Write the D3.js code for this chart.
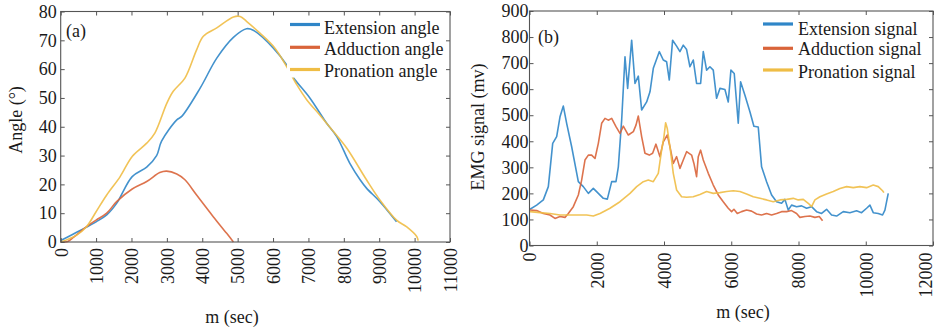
<!DOCTYPE html>
<html>
<head>
<meta charset="utf-8">
<script src="https://d3js.org/d3.v7.min.js"></script>
<style>
  body { margin: 0; background: #fff; }
  svg text { font-family: "Liberation Serif", "Times New Roman", Times, "DejaVu Serif", serif !important; fill: #1a1a1a; }
</style>
</head>
<body>
<div id="chart"></div>
<script>
// (a) joint angles, [time, angle]
const extensionAngle = [[0,0.5],[550,4],[1000,7],[1300,9.4],[1580,13.4],[2020,22.7],[2430,26],[2710,30],[2850,35],
  [3280,42.4],[3420,43.6],[3940,53.4],[4410,63.8],[4880,71],[5250,74],[5440,73.5],[6010,67.3],[6380,61.5],
  [6570,57.2],[7040,50],[7510,41.3],[7800,36.6],[8170,27.3],[8460,21.6],[8640,18.7],[9020,14],[9490,7]];
const adductionAngle = [[0,0],[200,0.2],[360,1.6],[730,5.3],[1000,7.6],[1300,10],[1580,14],[2020,18.4],[2430,21],
  [2800,24.1],[2990,24.6],[3280,23.6],[3510,21.6],[3840,16.3],[4310,8.8],[4690,3],[4880,0]];
const pronationAngle = [[0,0],[450,2.4],[730,5.3],[1000,10.5],[1300,16.3],[1680,22.7],[2020,29.7],[2430,34.3],
  [2660,37.8],[3000,48.2],[3180,52.3],[3510,56.9],[3840,66.7],[4030,71.4],[4410,74.3],[4880,78.1],[5070,78.3],
  [5250,76.6],[5630,72.5],[6010,67.9],[6380,61],[6670,54.6],[6950,49.4],[7320,44.1],[7700,38.4],[8080,32.6],
  [8640,21.6],[9020,14.6],[9490,7.6],[9770,5.3],[10060,1.9],[10100,0.5]];

// (b) EMG signals, [time, mv]
const extensionSignal = [[15,139],[213,155],[411,175],[560,226],[690,392],[808,418],[907,494],[1006,535],[1105,469],
  [1254,379],[1452,245],[1600,226],[1750,200],[1898,219],[2047,200],[2196,181],[2315,178],[2444,245],[2572,245],
  [2642,302],[2741,481],[2840,724],[2919,603],[3038,788],[3137,622],[3236,650],[3335,520],[3484,551],[3583,590],
  [3682,680],[3860,744],[3979,712],[4078,705],[4157,635],[4256,788],[4375,765],[4474,744],[4573,769],[4672,752],
  [4771,686],[4870,712],[4969,622],[5089,622],[5168,744],[5267,673],[5366,686],[5465,673],[5564,565],[5663,603],
  [5812,599],[5911,551],[5990,673],[6089,660],[6208,469],[6278,628],[6407,577],[6555,513],[6674,458],[6803,455],
  [6902,302],[7051,245],[7200,194],[7348,168],[7497,162],[7596,177],[7695,136],[7794,155],[7943,149],[8092,152],
  [8240,143],[8389,149],[8538,130],[8687,123],[8835,139],[8984,117],[9133,113],[9331,130],[9529,126],[9727,133],
  [9876,126],[10025,143],[10124,155],[10223,126],[10372,123],[10500,117],[10570,136],[10669,200]];
const adductionSignal = [[15,136],[213,134],[411,123],[610,117],[758,104],[907,111],[1056,108],[1155,123],[1303,149],
  [1452,194],[1551,251],[1650,328],[1750,347],[1848,347],[1948,334],[2047,392],[2146,469],[2245,488],[2344,481],
  [2444,488],[2572,456],[2691,430],[2790,458],[2939,424],[3088,437],[3167,462],[3236,497],[3335,418],[3434,354],
  [3563,347],[3662,354],[3761,389],[3880,341],[3979,398],[4098,424],[4177,379],[4276,315],[4375,341],[4474,296],
  [4573,328],[4672,360],[4821,347],[4890,315],[4969,264],[5019,341],[5089,366],[5168,328],[5317,277],[5465,232],
  [5614,194],[5762,168],[5911,143],[6010,130],[6080,139],[6179,123],[6307,130],[6456,136],[6605,132],[6753,121],
  [6902,117],[7051,123],[7200,117],[7348,123],[7497,130],[7646,130],[7794,134],[7943,123],[8042,108],[8191,111],
  [8339,113],[8488,108],[8617,111],[8716,95]];
const pronationSignal = [[15,130],[312,126],[610,123],[907,117],[1204,117],[1502,117],[1700,117],[1898,113],[2097,123],
  [2394,143],[2691,168],[2989,200],[3187,226],[3385,245],[3533,251],[3682,245],[3830,277],[3929,366],[3999,418],
  [4048,471],[4098,449],[4177,379],[4276,277],[4375,213],[4524,187],[4672,185],[4870,187],[5069,196],[5267,207],
  [5465,200],[5663,203],[5861,207],[6060,210],[6258,207],[6456,198],[6654,187],[6853,181],[7051,175],[7249,168],
  [7447,175],[7646,177],[7844,181],[7993,175],[8142,177],[8290,162],[8389,149],[8488,175],[8637,187],[8835,198],
  [9034,207],[9232,219],[9430,226],[9628,222],[9826,226],[10025,222],[10223,232],[10372,226],[10500,210],[10540,203]];

const angleTicksX = d3.range(0, 11001, 1000);
const angleTicksY = d3.range(0, 81, 10);
const signalTicksX = d3.range(0, 12001, 2000);
const signalTicksY = d3.range(0, 901, 100);

const colors = ["#2f86c8", "#d9643a", "#efbd45"];
const FONT = '"Liberation Serif", "Times New Roman", Times, "DejaVu Serif", serif';

const svg = d3.select("#chart").append("svg")
  .attr("width", 935).attr("height", 329)
  .attr("font-family", FONT);

function panel(opt) {
  const x = d3.scaleLinear().domain(opt.xDomain).range(opt.xRange);
  const y = d3.scaleLinear().domain(opt.yDomain).range(opt.yRange);
  const g = svg.append("g");
  const [x0, x1] = opt.xRange, [y0, y1] = opt.yRange;

  // curves
  const line = d3.line().x(d => x(d[0])).y(d => y(d[1])).curve(opt.curve);
  opt.series.forEach((s, i) => {
    g.append("path").datum(s).attr("d", line)
      .attr("fill", "none").attr("stroke", colors[i])
      .attr("stroke-width", 1.6).attr("stroke-opacity", 0.9)
      .attr("stroke-linejoin", "round");
  });

  // legend (white box covers lines)
  const lg = g.append("g");
  lg.append("rect").attr("x", opt.legend.x - 3).attr("y", y1 + 1)
    .attr("width", opt.legend.w).attr("height", opt.legend.h).attr("fill", "#fff");
  opt.names.forEach((n, i) => {
    const ly = opt.legend.lineY[i];
    lg.append("line").attr("x1", opt.legend.x).attr("x2", opt.legend.x + 30)
      .attr("y1", ly).attr("y2", ly).attr("stroke", colors[i]).attr("stroke-width", 3.2);
    lg.append("text").attr("x", opt.legend.tx).attr("y", opt.legend.textY[i])
      .attr("font-size", 18).text(n);
  });

  // axes
  const axisStyle = sel => {
    sel.attr("font-family", FONT);
    sel.select(".domain").remove();
    sel.selectAll("line").attr("stroke", "#555");
  };
  const last = opt.xTicks[opt.xTicks.length - 1];
  g.append("g").attr("transform", `translate(0,${y0})`)
    .call(d3.axisBottom(x).tickValues(opt.xTicks).tickSize(-4).tickPadding(6).tickFormat(d3.format("d")))
    .call(axisStyle)
    .call(s => s.selectAll("text")
      .attr("font-size", 18).attr("fill", "#1a1a1a")
      .attr("transform", "rotate(-90)").attr("text-anchor", "end")
      .attr("x", -opt.xLabelGap).attr("y", d => d === last ? opt.lastShift : 0).attr("dy", "0.35em"));
  g.append("g").attr("transform", `translate(0,${y1})`)
    .call(d3.axisTop(x).tickValues(opt.xTicks).tickSize(-4).tickFormat(""))
    .call(axisStyle);
  g.append("g").attr("transform", `translate(${x0},0)`)
    .call(d3.axisLeft(y).tickValues(opt.yTicks).tickSize(-4).tickPadding(opt.yLabelGap).tickFormat(d3.format("d")))
    .call(axisStyle)
    .call(s => s.selectAll("text").attr("font-size", 18).attr("fill", "#1a1a1a"));
  g.append("g").attr("transform", `translate(${x1},0)`)
    .call(d3.axisRight(y).tickValues(opt.yTicks).tickSize(-4).tickFormat(""))
    .call(axisStyle);

  g.append("rect").attr("x", x0).attr("y", y1).attr("width", x1 - x0).attr("height", y0 - y1)
    .attr("fill", "none").attr("stroke", "#555").attr("stroke-width", 1.1);

  // titles
  g.append("text").attr("x", opt.tag.x).attr("y", opt.tag.y).attr("font-size", 18).text(opt.tag.t);
  g.append("text").attr("x", opt.xTitle.x).attr("y", opt.xTitle.y)
    .attr("text-anchor", "middle").attr("font-size", 18).text("m (sec)");
  g.append("text").attr("transform", `translate(${opt.yTitle.x},${opt.yTitle.y}) rotate(-90)`)
    .attr("text-anchor", "middle").attr("font-size", 18).text(opt.yTitle.t);
}

panel({
  xDomain: [0, 11000], xRange: [60.7, 450],
  yDomain: [0, 80], yRange: [242, 11.5],
  xTicks: angleTicksX, yTicks: angleTicksY,
  xLabelGap: 6, yLabelGap: 4, lastShift: 0,
  curve: d3.curveCatmullRom,
  series: [extensionAngle, adductionAngle, pronationAngle],
  names: ["Extension angle", "Adduction angle", "Pronation angle"],
  legend: { x: 290, tx: 324, w: 157, h: 65, lineY: [24.5, 47.3, 69.5], textY: [33.5, 54.5, 76.5] },
  tag: { x: 66, y: 37, t: "(a)" },
  xTitle: { x: 232, y: 323 },
  yTitle: { x: 22, y: 120, t: "Angle (°)" }
});

panel({
  xDomain: [0, 12000], xRange: [529.5, 933],
  yDomain: [0, 900], yRange: [245.5, 11],
  xTicks: signalTicksX, yTicks: signalTicksY,
  xLabelGap: 7, yLabelGap: 1, lastShift: -8,
  curve: d3.curveLinear,
  series: [extensionSignal, adductionSignal, pronationSignal],
  names: ["Extension signal", "Adduction signal", "Pronation signal"],
  legend: { x: 763, tx: 798, w: 165, h: 70, lineY: [24, 48.3, 70], textY: [34.5, 55.3, 77.5] },
  tag: { x: 538, y: 43, t: "(b)" },
  xTitle: { x: 743, y: 318 },
  yTitle: { x: 484, y: 127, t: "EMG signal (mv)" }
});
</script>
</body>
</html>
